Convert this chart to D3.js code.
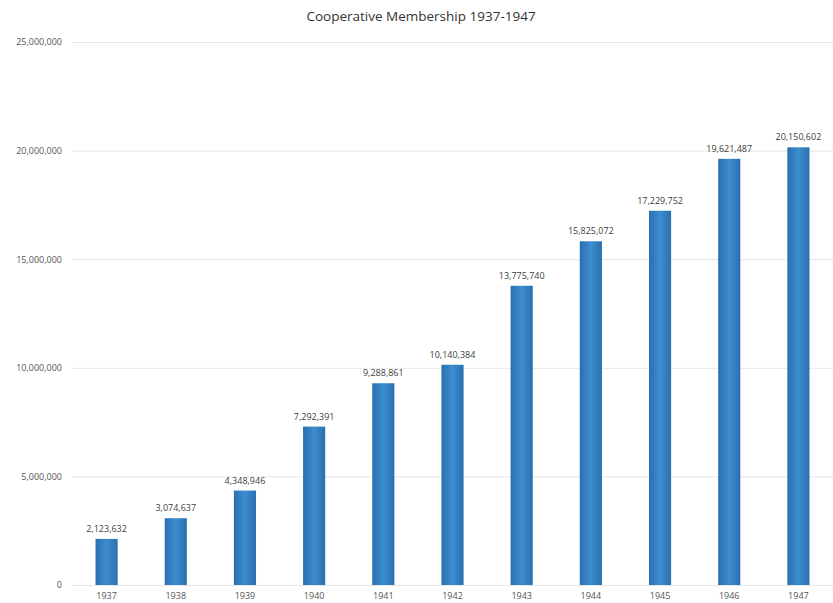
<!DOCTYPE html>
<html>
<head>
<meta charset="utf-8">
<script src="https://cdn.jsdelivr.net/npm/d3@7"></script>
<style>
  html, body { margin: 0; padding: 0; background: #fff; }
  svg { display: block; font-family: "Open Sans", "Noto Sans", sans-serif; }
</style>
</head>
<body>
<svg id="chart" width="833" height="603"></svg>
<script>
// Cooperative membership by year
const years = ["1937", "1938", "1939", "1940", "1941", "1942", "1943", "1944", "1945", "1946", "1947"];
const members = [2123632, 3074637, 4348946, 7292391, 9288861, 10140384, 13775740, 15825072, 17229752, 19621487, 20150602];
const yTicks = [0, 5000000, 10000000, 15000000, 20000000, 25000000];

const svg = d3.select("#chart");
const plot = { left: 72, right: 833, top: 42, bottom: 585 };

const x = d3.scaleBand().domain(years).range([plot.left, plot.right]).paddingInner(0.68).paddingOuter(0.34);
const y = d3.scaleLinear().domain([0, 25000000]).range([plot.bottom, plot.top]);

// bar fill: darker edges, lighter centre
const defs = svg.append("defs");
const grad = defs.append("linearGradient").attr("id", "barGrad").attr("x1", "0").attr("x2", "1").attr("y1", "0").attr("y2", "0");
grad.append("stop").attr("offset", "0%").attr("stop-color", "#2a6fb0");
grad.append("stop").attr("offset", "50%").attr("stop-color", "#3d8dd0");
grad.append("stop").attr("offset", "100%").attr("stop-color", "#2a6fb0");

// title
svg.append("text")
  .attr("x", 421).attr("y", 21)
  .attr("text-anchor", "middle")
  .attr("font-size", 13.5).attr("fill", "#333")
  .text("Cooperative Membership 1937-1947");

// gridlines and y labels
const yAxis = d3.axisLeft(y).tickValues(yTicks).tickSize(-(plot.right - plot.left)).tickPadding(10).tickFormat(d3.format(","));
const gy = svg.append("g").attr("transform", `translate(${plot.left},0)`).call(yAxis);
gy.select(".domain").remove();
gy.selectAll(".tick line").attr("stroke", "#e6e6e6").attr("stroke-width", 1);
gy.selectAll(".tick text").attr("fill", "#555").attr("font-size", 9).attr("font-family", "\"Open Sans\", sans-serif");

// x labels
const xAxis = d3.axisBottom(x).tickSize(0).tickPadding(8);
const gx = svg.append("g").attr("transform", `translate(0,${plot.bottom})`).call(xAxis);
gx.select(".domain").remove();
gx.selectAll(".tick text").attr("fill", "#555").attr("font-size", 9).attr("font-family", "\"Open Sans\", sans-serif");

// bars
svg.append("g").selectAll("rect").data(years).join("rect")
  .attr("x", d => x(d))
  .attr("width", x.bandwidth())
  .attr("y", (d, i) => y(members[i]))
  .attr("height", (d, i) => y(0) - y(members[i]))
  .attr("fill", "url(#barGrad)");

// value labels
svg.append("g").selectAll("text").data(years).join("text")
  .attr("x", d => x(d) + x.bandwidth() / 2)
  .attr("y", (d, i) => y(members[i]) - 7)
  .attr("text-anchor", "middle")
  .attr("font-size", 9).attr("fill", "#404040")
  .text((d, i) => d3.format(",")(members[i]));
</script>
</body>
</html>
